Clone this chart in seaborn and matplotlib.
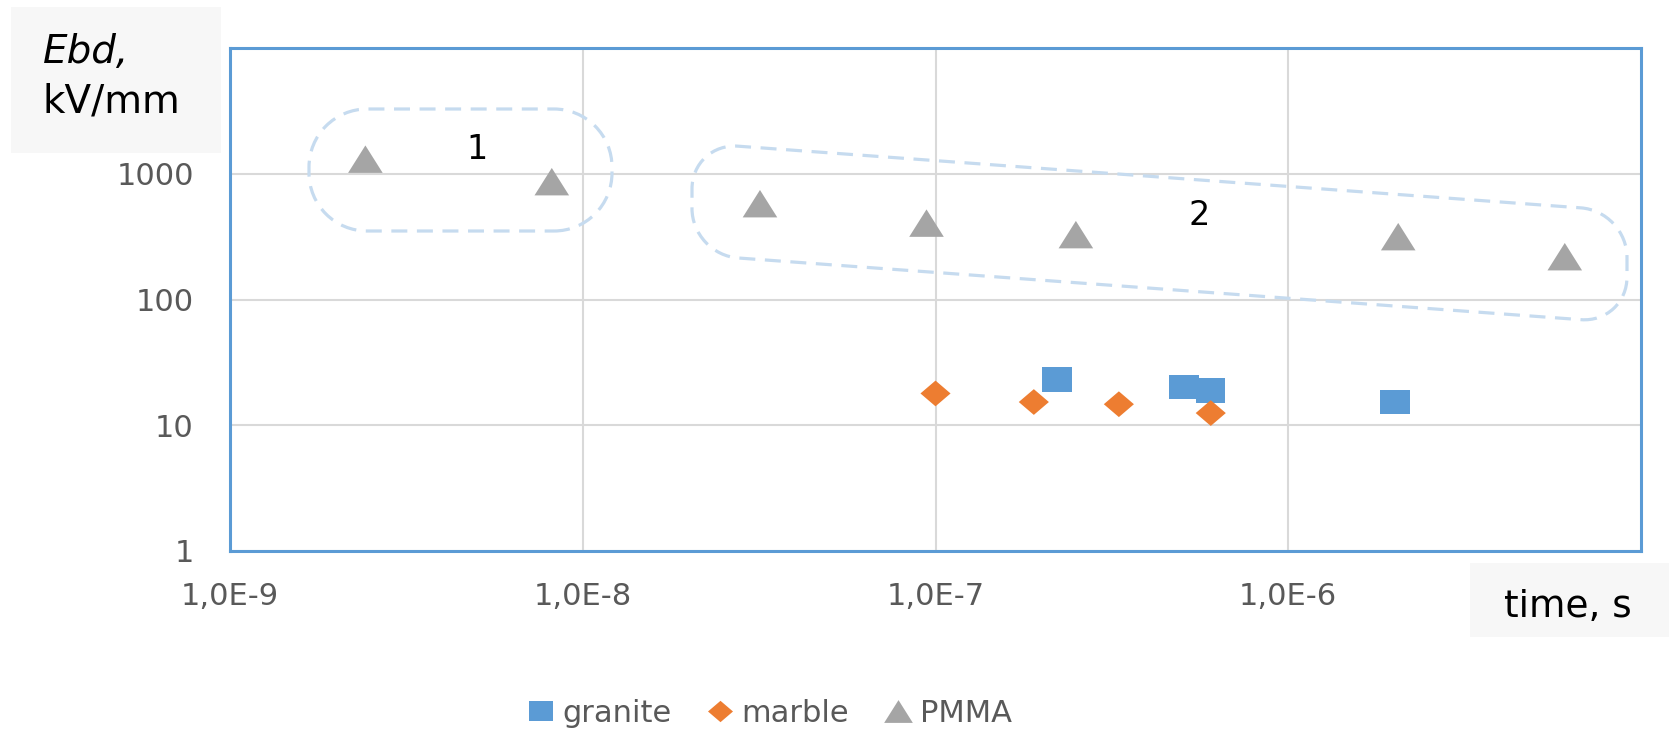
import numpy as np
import pandas as pd
import matplotlib
matplotlib.use("Agg")
import matplotlib.pyplot as plt
import seaborn as sns
from matplotlib.patches import PathPatch, Rectangle
from matplotlib.path import Path
from matplotlib.transforms import Affine2D

# ── Data ──────────────────────────────────────────────────────
granite_time = [2.21e-7, 5.07e-7, 6.03e-7, 2.01e-6]
granite_ebd = [23.0, 20.1, 18.8, 15.3]
marble_time = [1.0e-7, 1.90e-7, 3.31e-7, 6.03e-7]
marble_ebd = [17.9, 15.3, 14.7, 12.5]
pmma_time = [2.42e-9, 8.17e-9, 3.18e-8, 9.43e-8, 2.50e-7, 2.05e-6, 6.08e-6]
pmma_ebd = [1306, 865, 578, 405, 328, 316, 219]

materials = ["granite", "marble", "PMMA"]
x_ticks = [1e-9, 1e-8, 1e-7, 1e-6]
x_tick_labels = ["1,0E-9", "1,0E-8", "1,0E-7", "1,0E-6"]
y_ticks = [1, 10, 100, 1000]
y_tick_labels = ["1", "10", "100", "1000"]

df = pd.DataFrame({
    "time": granite_time + marble_time + pmma_time,
    "ebd": granite_ebd + marble_ebd + pmma_ebd,
    "material": (["granite"] * len(granite_time) + ["marble"] * len(marble_time)
                 + ["PMMA"] * len(pmma_time)),
})


def rounded_rect(x0, y0, w, h, r):
    # rectangle with true circular corners
    verts, codes = [], []
    corners = [(x0 + w - r, y0 + r, -90, 0), (x0 + w - r, y0 + h - r, 0, 90),
               (x0 + r, y0 + h - r, 90, 180), (x0 + r, y0 + r, 180, 270)]
    for cx, cy, a1, a2 in corners:
        arc = Path.arc(a1, a2)
        c = list(arc.codes)
        if verts:
            c[0] = Path.LINETO
        verts.extend(arc.vertices * r + [cx, cy])
        codes.extend(c)
    verts.append(verts[0])
    codes.append(Path.CLOSEPOLY)
    return Path(verts, codes)


# ── Style ─────────────────────────────────────────────────────
sns.set_style("white")
plt.rcParams["font.family"] = ["DejaVu Sans"]

palette = {"granite": "#5B9BD5", "marble": "#ED7D31", "PMMA": "#A5A5A5"}
# markers a bit wider than tall, like the (stretched) original
markers = {
    "granite": [(-1.2, -1), (1.2, -1), (1.2, 1), (-1.2, 1), (-1.2, -1)],
    "marble": [(-1.17, 0), (0, 1), (1.17, 0), (0, -1), (-1.17, 0)],
    "PMMA": [(0, 1), (-1.26, -1), (1.26, -1), (0, 1)],
}
sizes = {"granite": 450, "marble": 470, "PMMA": 620}

W, H = 1669, 730
fig = plt.figure(figsize=(W / 100, H / 100), dpi=100)
ax = fig.add_axes([230 / W, 1 - 551 / H, (1641 - 230) / W, (551 - 48) / H])
px = Affine2D().scale(1 / 100) + fig.dpi_scale_trans  # pixel coords (y up)

sns.scatterplot(data=df, x="time", y="ebd", hue="material", style="material",
                size="material", palette=palette, markers=markers, sizes=sizes,
                hue_order=materials, style_order=materials, size_order=materials,
                linewidth=0, ax=ax, zorder=3)

ax.set_xscale("log")
ax.set_yscale("log")
ax.set_xlim(1e-9, 1e-5)
ax.set_ylim(1, 1e4)
ax.set_xticks(x_ticks)
ax.set_xticklabels(x_tick_labels)
ax.set_yticks(y_ticks)
ax.set_yticklabels(y_tick_labels)
ax.minorticks_off()
ax.set_xlabel("")
ax.set_ylabel("")
ax.grid(True, which="major", color="#D9D9D9", linewidth=1.5)
ax.set_axisbelow(True)
ax.tick_params(length=0, labelsize=22, labelcolor="#595959")
ax.tick_params(axis="x", pad=22)
ax.tick_params(axis="y", pad=26)
for s in ax.spines.values():
    s.set_color("#5B9BD5")
    s.set_linewidth(2.2)

# group labels
ax.text(5.0e-9, 1550, "1", fontsize=24, color="black", ha="center", va="center")
ax.text(5.6e-7, 464, "2", fontsize=24, color="black", ha="center", va="center")

# dashed group outlines
dash_kw = dict(fill=False, edgecolor="#C6DBEF", linewidth=2.3, linestyle=(0, (5, 3)), zorder=2)
fig.add_artist(PathPatch(rounded_rect(309, 499, 303, 122, 58), transform=px, **dash_kw))
skew = Affine2D().skew(0, -np.arctan(0.0732)).translate(692, 0) + px
fig.add_artist(PathPatch(rounded_rect(0, 475.4, 935, 111.8, 46), transform=skew, **dash_kw))

# axis title boxes
fig.add_artist(Rectangle((11, H - 153), 210, 146, transform=px,
                         facecolor="#F7F7F7", edgecolor="none", zorder=0))
fig.add_artist(Rectangle((1470, H - 637), 199, 74, transform=px,
                         facecolor="#F7F7F7", edgecolor="none", zorder=0))
fig.text(43, H - 63, "Ebd,", transform=px, fontsize=28, style="italic",
         color="black", va="baseline")
fig.text(43, H - 113, "kV/mm", transform=px, fontsize=28, color="black", va="baseline")
fig.text(1568, H - 617, "time, s", transform=px, fontsize=27, color="black",
         ha="center", va="baseline")

# legend at the bottom
old = ax.get_legend()
handles = list(old.legend_handles)
labels = [t.get_text() for t in old.get_texts()]
old.remove()
keep = [i for i, l in enumerate(labels) if l in materials]
fig.legend([handles[i] for i in keep], [labels[i] for i in keep],
           loc="center", bbox_to_anchor=(770 / W, 17 / H), ncol=3, frameon=False,
           fontsize=22, labelcolor="#595959", markerscale=0.83,
           handlelength=0.8, handletextpad=0.3, columnspacing=1.2)

fig.savefig("out.png", dpi=100)
